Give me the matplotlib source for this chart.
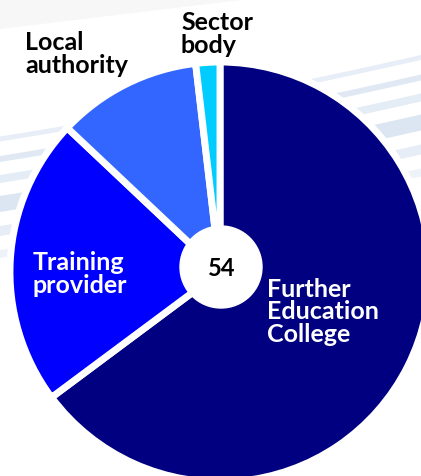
import numpy as np
import matplotlib
matplotlib.use('Agg')
import matplotlib.pyplot as plt
from matplotlib.patches import Circle

W, H = 421, 477

# data (respondents by organisation type)
labels = ['Further\nEducation\nCollege', 'Training\nprovider', 'Local\nauthority', 'Sector\nbody']
counts = [35, 12, 6, 1]
colors = ['#000080', '#0000ff', '#3366ff', '#00ccff']
explode = [0.035, 0.03, 0.025, 0.005]

# label anchor points (image px: left edge, baseline of last line)
label_pos = [(267, 342), (33, 293), (25, 73), (181, 53)]
label_col = ['white', 'white', 'black', 'black']

plt.rcParams['font.family'] = ['Lato', 'DejaVu Sans']

fig = plt.figure(figsize=(W / 100, H / 100), dpi=100)
ax = fig.add_axes([0, 0, 1, 1])

def iy(y):
    # image y (down) -> data y (up)
    return H - y

# faint background swooshes like the slide template
xs = np.linspace(0, W, 200)
swoosh = [(205, 16, '#dce6f2'), (180, 8, '#e4ecf6'), (232, 10, '#e6edf6'),
          (160, 6, '#dfe8f3'), (255, 8, '#eef3f9'), (140, 5, '#e8eef7')]
for y0, th, c in swoosh:
    yc = y0 - 0.16 * xs - 0.00008 * xs ** 2
    ax.fill_between(xs, iy(yc - th / 2), iy(yc + th / 2), color=c, lw=0, zorder=0)
ax.fill_between(xs, iy(0), iy(30 - 0.12 * xs), color='#f7f7f7', lw=0, zorder=0)

cx, cy, R = 220, 273, 210
wedges, _ = ax.pie(counts, colors=colors, explode=explode, startangle=90,
                   counterclock=False, radius=R, center=(cx, iy(cy)),
                   wedgeprops=dict(edgecolor='white', linewidth=5))
for w in wedges:
    w.set_zorder(2)

ax.add_patch(Circle((cx + 1, iy(cy - 5)), 41, color='white', zorder=3))
ax.text(cx + 2, iy(cy - 5), str(sum(counts)), ha='center', va='center',
        fontsize=17, fontweight='bold', color='black', zorder=4)

for lab, (x, y), c in zip(labels, label_pos, label_col):
    ax.text(x, iy(y), lab, ha='left', va='baseline', fontsize=18,
            fontweight='bold', color=c, linespacing=0.98, zorder=4)

ax.set_xlim(0, W)
ax.set_ylim(0, H)
ax.set_aspect('auto')
ax.axis('off')

fig.savefig('out.png', dpi=100, facecolor='white')
